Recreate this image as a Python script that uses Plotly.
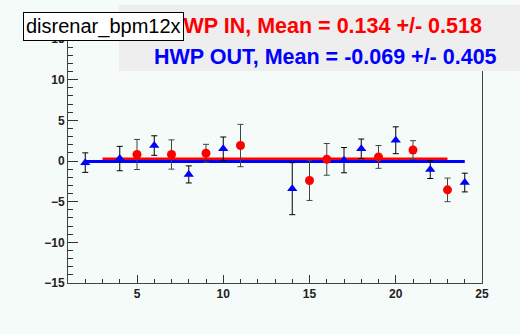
import plotly.graph_objects as go

# HWP IN (red circles)
in_x = [5, 7, 9, 11, 15, 16, 19, 21, 23]
in_y = [0.8, 0.8, 0.95, 1.9, -2.4, 0.2, 0.5, 1.35, -3.55]
in_err = [1.85, 1.8, 1.1, 2.6, 2.45, 1.95, 1.4, 1.15, 1.45]

# HWP OUT (blue triangles)
out_x = [2, 4, 6, 8, 10, 14, 17, 18, 20, 22, 24]
out_y = [-0.2, 0.3, 1.9, -1.65, 1.5, -3.4, 0.1, 1.5, 2.55, -1.05, -2.65]
out_err = [1.2, 1.5, 1.2, 1.05, 1.45, 3.2, 1.55, 1.2, 1.65, 1.1, 1.15]

in_mean = 0.134
out_mean = -0.069
in_line_x = [3, 23]
out_line_x = [2, 24]

title_text = "disrenar_bpm12x"
in_label = "HWP IN, Mean = 0.134 +/- 0.518"
out_label = "HWP OUT, Mean = -0.069 +/- 0.405"

BG = "#f5fbf8"
W, H = 520, 334
L, R, T, B = 68, 38, 39, 51
pw, ph = W - L - R, H - T - B

def px(x):
    return (x - L) / pw

def py(y):
    return (H - B - y) / ph

fig = go.Figure()
fig.add_trace(go.Scatter(x=in_line_x, y=[in_mean] * 2, mode="lines",
                         line=dict(color="#ff0000", width=5), showlegend=False))
fig.add_trace(go.Scatter(x=out_line_x, y=[out_mean] * 2, mode="lines",
                         line=dict(color="#0000ff", width=3), showlegend=False))
fig.add_trace(go.Scatter(x=in_x, y=in_y, mode="markers",
                         marker=dict(color="#ff0000", size=9, symbol="circle"),
                         error_y=dict(type="data", array=in_err, color="#444444", thickness=1, width=3),
                         showlegend=False))
fig.add_trace(go.Scatter(x=out_x, y=out_y, mode="markers",
                         marker=dict(color="#0000ff", size=9, symbol="triangle-up"),
                         error_y=dict(type="data", array=out_err, color="#000000", thickness=1, width=3),
                         showlegend=False))

axis_common = dict(showgrid=False, zeroline=False, showline=True, linecolor="#444444",
                   linewidth=1, mirror=True, ticks="inside", tickcolor="#333333",
                   tickfont=dict(family="Liberation Sans", size=12, color="#222222", weight="bold"))

fig.update_xaxes(range=[1, 25], tickvals=[5, 10, 15, 20, 25], ticklen=8,
                 minor=dict(dtick=1, tick0=0, ticks="inside", ticklen=4, tickcolor="#333333"),
                 **axis_common)
fig.update_yaxes(range=[-15, 15], tickvals=[-15, -10, -5, 0, 5, 10, 15], ticklen=10,
                 minor=dict(dtick=1, tick0=0, ticks="inside", ticklen=5, tickcolor="#333333"),
                 **axis_common)

fig.add_shape(type="rect", xref="paper", yref="paper",
              x0=px(119), x1=px(522), y0=py(71), y1=py(5),
              fillcolor="#eeeeee", line=dict(width=0), layer="above")

fig.add_annotation(text=in_label, xref="paper", yref="paper", x=px(484), y=py(26),
                   xanchor="right", yanchor="middle", showarrow=False,
                   font=dict(family="Liberation Sans", size=21.5, color="#ff0000", weight="bold"))
fig.add_annotation(text=out_label, xref="paper", yref="paper", x=px(499), y=py(57),
                   xanchor="right", yanchor="middle", showarrow=False,
                   font=dict(family="Liberation Sans", size=21.5, color="#0000ff", weight="bold"))
fig.add_annotation(text=title_text, xref="paper", yref="paper", x=px(103.5), y=py(26),
                   xanchor="center", yanchor="middle", showarrow=False,
                   bgcolor="#ffffff", bordercolor="#000000", borderwidth=1, borderpad=2,
                   font=dict(family="Liberation Sans", size=20, color="#000000"))

fig.update_layout(width=W, height=H, margin=dict(l=L, r=R, t=T, b=B),
                  paper_bgcolor=BG, plot_bgcolor=BG)

fig.write_html("out.html")
